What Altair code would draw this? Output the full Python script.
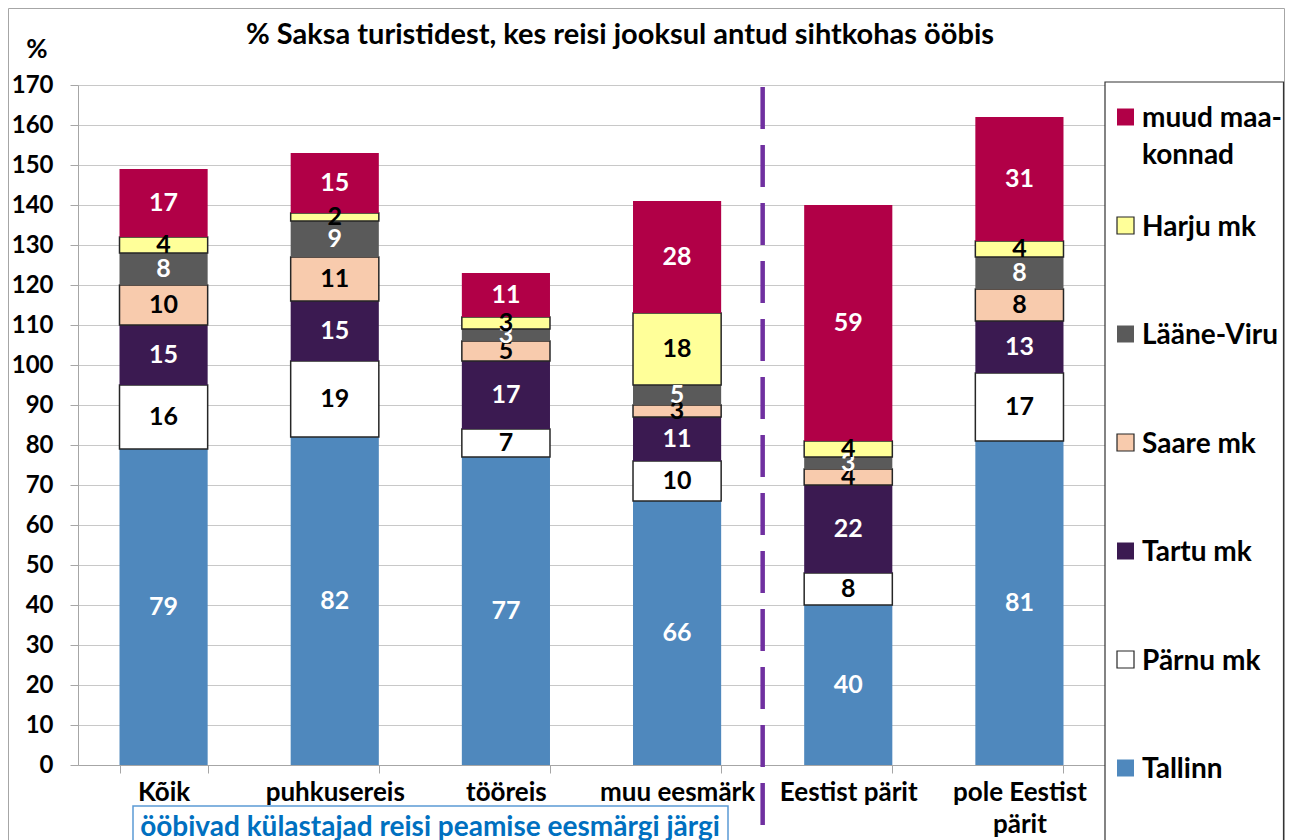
import altair as alt
import pandas as pd

# ---------------- data ----------------
categories = ["Kõik", "puhkusereis", "tööreis", "muu eesmärk", "Eestist pärit", "pole Eestist pärit"]
series_names = ["Tallinn", "Pärnu mk", "Tartu mk", "Saare mk", "Lääne-Viru", "Harju mk", "muud maakonnad"]
tallinn = [79, 82, 77, 66, 40, 81]
parnu = [16, 19, 7, 10, 8, 17]
tartu = [15, 15, 17, 11, 22, 13]
saare = [10, 11, 5, 3, 4, 8]
laane_viru = [8, 9, 3, 5, 3, 8]
harju = [4, 2, 3, 18, 4, 4]
muud = [17, 15, 11, 28, 59, 31]
series_colors = ["#4F88BD", "#FFFFFF", "#3B1A51", "#F8CBAD", "#5A5A5A", "#FFFF99", "#B10047"]
legend_text = ["muud maa-\nkonnad", "Harju mk", "Lääne-Viru", "Saare mk", "Tartu mk", "Pärnu mk", "Tallinn"]
y_ticks = list(range(0, 171, 10))
title_text = "% Saksa turistidest, kes reisi jooksul antud sihtkohas ööbis"
y_title = "%"
note_text = "ööbivad külastajad reisi peamise eesmärgi järgi"

values_by_series = [tallinn, parnu, tartu, saare, laane_viru, harju, muud]
rows = []
for si, (name, vals) in enumerate(zip(series_names, values_by_series)):
    for ci, cat in enumerate(categories):
        rows.append({"cat": cat, "series": name, "value": vals[ci], "order": si})
df = pd.DataFrame(rows)

legend_order = series_names[::-1]
legend_df = pd.DataFrame({"series": legend_order, "label": legend_text})
one = pd.DataFrame({"k": [0]})

bordered = ["Pärnu mk", "Saare mk", "Harju mk"]
dark_labels = ["Pärnu mk", "Saare mk", "Harju mk"]

W, H = 1027, 680
PAD_L, PAD_T, PAD_R, PAD_B = 70, 77, 180, 75
FONT = "Lato"

color_scale = alt.Scale(domain=series_names, range=series_colors)
x_scale = alt.Scale(paddingInner=0.485, paddingOuter=0.2425)
y_scale = alt.Scale(domain=[0, 170], nice=False)

x_axis = alt.Axis(
    title=None, labelAngle=0, labelFontSize=26, labelFont=FONT, labelFontWeight="bold",
    labelColor="black", labelPadding=6, labelLineHeight=32, tickBand="extent",
    tickSize=8, tickColor="#a6a6a6", domainColor="#a6a6a6", grid=False,
    labelExpr="datum.label == 'pole Eestist pärit' ? ['pole Eestist', 'pärit'] : datum.label",
)
y_axis = alt.Axis(
    title=None, values=y_ticks, labelFontSize=24, labelFont=FONT, labelFontWeight="bold",
    labelColor="black", labelPadding=17, tickSize=8, tickColor="#a6a6a6",
    domainColor="#a6a6a6", grid=True, gridColor="#c8c8c8", gridWidth=1,
)

bars = alt.Chart(df).mark_bar(stroke="#262626").encode(
    x=alt.X("cat:N", sort=categories, scale=x_scale, axis=x_axis),
    y=alt.Y("value:Q", stack="zero", scale=y_scale, axis=y_axis),
    color=alt.Color("series:N", scale=color_scale, legend=None),
    order=alt.Order("order:Q", sort="ascending"),
    strokeWidth=alt.condition(alt.FieldOneOfPredicate(field="series", oneOf=bordered),
                              alt.value(1.5), alt.value(0)),
)

labels = alt.Chart(df).transform_stack(
    stack="value", groupby=["cat"], sort=[alt.SortField("order", order="ascending")], as_=["y0", "y1"]
).transform_calculate(
    mid="(datum.y0 + datum.y1) / 2"
).mark_text(font=FONT, fontWeight="bold", fontSize=25, baseline="middle", align="center").encode(
    x=alt.X("cat:N", sort=categories, scale=x_scale, axis=x_axis),
    y=alt.Y("mid:Q", scale=y_scale, axis=y_axis),
    text=alt.Text("value:Q"),
    color=alt.condition(alt.FieldOneOfPredicate(field="series", oneOf=dark_labels),
                        alt.value("black"), alt.value("white")),
)

divider = alt.Chart(one).mark_rule(color="#7030A0", strokeWidth=4.5, strokeDash=[42, 16]).encode(
    x=alt.value(W * 4 / 6), y=alt.value(2), y2=alt.value(H + 90)
)

note_box = alt.Chart(one).mark_rect(fill="white", stroke="#5B9BD5", strokeWidth=1.5).encode(
    x=alt.value(55), x2=alt.value(650), y=alt.value(721), y2=alt.value(H + 100)
)
note = alt.Chart(one).mark_text(
    text=note_text, color="#0070C0", font=FONT, fontWeight="bold", fontSize=28,
    align="center", baseline="middle"
).encode(x=alt.value(352), y=alt.value(743))

pct = alt.Chart(one).mark_text(
    text=y_title, color="black", font=FONT, fontWeight="bold", fontSize=26,
    align="center", baseline="middle"
).encode(x=alt.value(-41), y=alt.value(-35))

title = alt.Chart(one).mark_text(
    text=title_text, color="black", font=FONT, fontWeight="bold", fontSize=29,
    align="center", baseline="middle"
).encode(x=alt.value(542), y=alt.value(-50))

frame = alt.Chart(one).mark_rect(fill=None, stroke="#a6a6a6", strokeWidth=1).encode(
    x=alt.value(-PAD_L + 0.5), x2=alt.value(W + PAD_R - 0.5), y=alt.value(-PAD_T + 0.5), y2=alt.value(H + 120)
)

main_layer = alt.layer(frame, bars, labels, divider, note_box, note, pct, title)

legend_box = alt.Chart(one).mark_rect(fill="white", stroke="#333333", strokeWidth=1.2).encode(
    x=alt.value(W), x2=alt.value(W + PAD_R - 1.5), y=alt.value(-3), y2=alt.value(H + 120)
)
leg_y = alt.Y("series:N", sort=legend_order,
              scale=alt.Scale(type="point", range=[32, 683], padding=0), axis=None)
leg_sym = alt.Chart(legend_df).mark_square(size=289, opacity=1, stroke="#262626").encode(
    x=alt.value(1047.5), y=leg_y,
    color=alt.Color("series:N", scale=color_scale, legend=None),
    strokeWidth=alt.condition(alt.FieldOneOfPredicate(field="series", oneOf=bordered),
                              alt.value(1.2), alt.value(0)),
)
leg_txt = alt.Chart(legend_df).mark_text(
    align="left", baseline="top", dy=-12, lineHeight=37, lineBreak="\n",
    font=FONT, fontWeight="bold", fontSize=28, color="black"
).encode(x=alt.value(1064), y=leg_y, text="label:N")

legend_layer = alt.layer(legend_box, leg_sym, leg_txt)

chart = alt.layer(main_layer, legend_layer).resolve_scale(y="independent").properties(
    width=W, height=H,
    padding={"left": PAD_L, "top": PAD_T, "right": PAD_R, "bottom": PAD_B},
    autosize=alt.AutoSizeParams(type="none"),
).configure_view(stroke=None).configure(background="white")

chart.save("out.html", embed_options={"renderer": "svg", "actions": False})
